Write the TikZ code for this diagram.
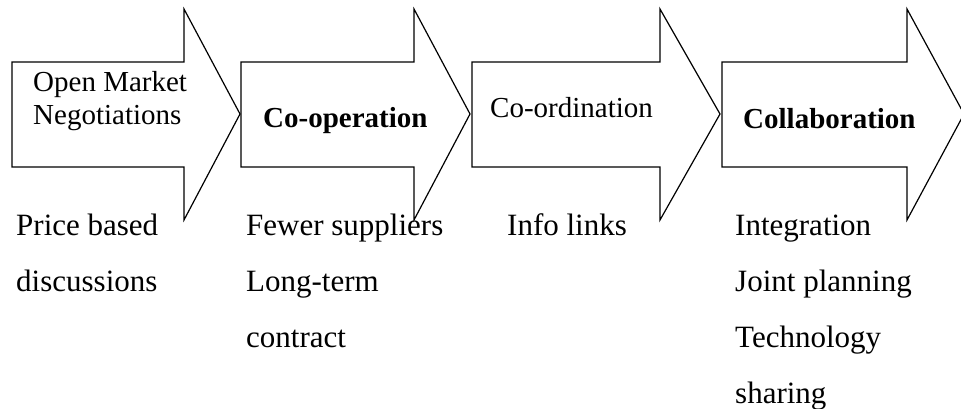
\documentclass[tikz,border=0pt]{standalone}
\usepackage{fontspec}
\setmainfont{Liberation Serif}
\usetikzlibrary{positioning}

\tikzset{
  stage/.style={draw, line width=1.2pt, line join=miter},
  title/.style={anchor=base west, inner sep=0pt, align=left, font=\fontsize{29}{33}\selectfont},
  notes/.style={anchor=base west, inner sep=0pt, align=left, font=\fontsize{31}{56}\selectfont}
}
% 箭头: 左边, 箭头底, 箭尖
\newcommand{\stagearrow}[3]{%
  \draw[stage] (#1,62) -- (#2,62) -- (#2,9) -- (#3,114) -- (#2,220) -- (#2,167) -- (#1,167) -- cycle;}

\begin{document}
\begin{tikzpicture}[x=1pt, y=-1pt]
\useasboundingbox (0,0) rectangle (961,409);
% 阶段
\stagearrow{12}{184}{240}
\stagearrow{241}{414}{470}
\stagearrow{472}{660}{720}
\stagearrow{722}{907}{964}

% 标题 (基线取最后一行)
\node[title] (neg) at (33,125) {Open Market\\Negotiations};
\node[title] (coop) at (263,128) {\bfseries Co-operation};
\node[title] (coord) at (490,118) {Co-ordination};
\node[title] (collab) at (743,129) {\bfseries Collaboration};

% 说明
\node[notes] (negnotes) at (16,291) {Price based\\discussions};
\node[notes] (coopnotes) at (246,347) {Fewer suppliers\\Long-term\\contract};
\node[notes] (coordnotes) at (507,235) {Info links};
\node[notes] (collabnotes) at (735,403) {Integration\\Joint planning\\Technology\\sharing};
\end{tikzpicture}
\end{document}
